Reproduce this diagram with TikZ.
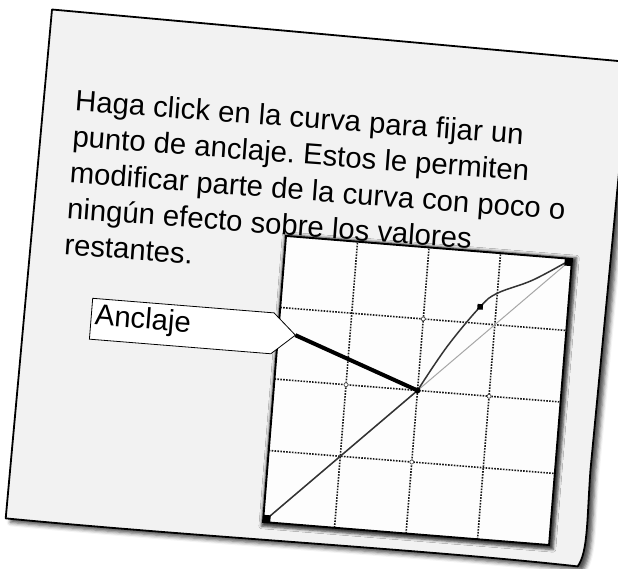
\documentclass[tikz,border=0pt]{standalone}
\usepackage{fontspec}
\setmainfont{Liberation Sans}
\usetikzlibrary{shadows.blur}
\definecolor{cardgray}{HTML}{F2F2F2}
\definecolor{plotwhite}{HTML}{FDFDFD}
\frenchspacing
\begin{document}
\begin{tikzpicture}[x=1pt,y=-1pt,
  cardstyle/.style={draw=black, line width=1.8pt, fill=cardgray, line join=round,
    blur shadow={shadow xshift=5pt, shadow yshift=-4pt, shadow blur radius=4pt, shadow opacity=70}},
  framestyle/.style={fill=plotwhite,
    blur shadow={shadow xshift=1.5pt, shadow yshift=-1.5pt, shadow scale=1.02, shadow blur radius=2.5pt, shadow opacity=75}},
  frameline/.style={draw=black, line width=1.9pt},
  gridline/.style={draw=black!90, line width=1.6pt, dash pattern=on 1.6pt off 1.3pt},
  gridmark/.style={draw=black!70, fill=white, line width=0.7pt},
  diagline/.style={draw=black!35, line width=1pt},
  curveline/.style={draw=black!80, line width=1.5pt},
  cornersq/.style={fill=black, inner sep=0pt, minimum size=7pt, rectangle},
  ptsq/.style={fill=black, inner sep=0pt, minimum size=5.5pt, rectangle},
  ancpt/.style={fill=black, inner sep=0pt, minimum size=6pt, circle},
  calloutstyle/.style={draw=black, line width=0.8pt, fill=white, line join=miter},
  leader/.style={draw=black, line width=4pt},
  bigtext/.style={font=\fontsize{29.3}{36}\selectfont}
]
\useasboundingbox (0,0) rectangle (618,569);
\clip (0,0) rectangle (618,569);

% card
\begin{scope}[shift={(52,9.5)}, rotate=-5.2]
  \path[cardstyle] (0,0) -- (580,0) -- (578,410)
     .. controls (579,460) and (583,492) .. (574,507)
     .. controls (420,504) and (200,512) .. (0,511) -- cycle;
\end{scope}

% curves graph
\begin{scope}[shift={(263,522)}, rotate=-4.6, x=287pt, y=287pt, transform shape]
  \path[framestyle] (0,0) rectangle (1,1);
  \foreach \t in {0.25,0.5,0.75} {
    \draw[gridline] (\t,0) -- (\t,1);
    \draw[gridline] (0,\t) -- (1,\t);
  }
  \foreach \a/\b in {0.5/0.75, 0.25/0.5, 0.75/0.5, 0.5/0.25}
    \draw[gridmark] (\a,\b) circle (2pt);
  \draw[diagline] (0,0) -- (1,1);
  \draw[curveline] (0,0) -- (0.5,0.5) -- plot[smooth, tension=0.6] coordinates
     {(0.5,0.5) (0.59,0.66) (0.694,0.808) (0.75,0.86) (0.87,0.916) (1,1)};
  \draw[frameline] (0,0) rectangle (1,1);
  \node[cornersq, anchor=south west] (c0) at (0,0) {};
  \node[cornersq, anchor=north east] (c1) at (1,1) {};
  \node[ptsq] (ctrl) at (0.694,0.808) {};
  \node[ancpt] (anc) at (0.5,0.5) {};
\end{scope}

% callout
\begin{scope}[shift={(92.7,298.3)}, rotate=-4.6]
  \path[calloutstyle] (0,0) -- (182,0) -- (205,20.5) -- (182,41) -- (0,41) -- cycle;
  \coordinate (calltip) at (205,20.5);
  \node[bigtext, anchor=base west, inner sep=0pt, rotate=-4.6] (lbl) at (3.5,26.3) {Anclaje};
\end{scope}
\draw[leader] (calltip) -- (anc.center);

% main text
\node[bigtext, anchor=base west, inner sep=0pt, rotate=-4.3] (txt) at (74.5,110.7)
  {\parbox[t]{520pt}{\raggedright Haga click en la curva para fijar un\\
   punto de anclaje. Estos le permiten\\
   modificar parte de la curva con poco o\\
   ningún efecto sobre los valores\\
   restantes.}};
\end{tikzpicture}
\end{document}
